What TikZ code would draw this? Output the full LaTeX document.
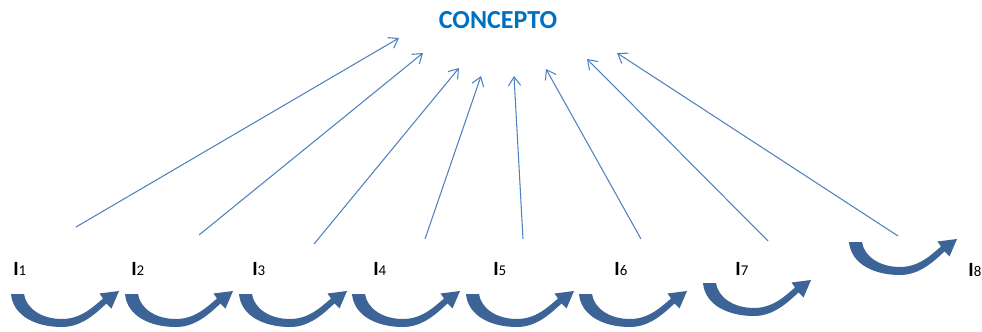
\documentclass[tikz,border=0pt]{standalone}
\usepackage{fontspec}
\setmainfont{Carlito}
\usetikzlibrary{arrows.meta}

\definecolor{lineblue}{RGB}{79,129,189}
\definecolor{titleblue}{RGB}{0,112,192}
\definecolor{bendblue}{RGB}{60,100,150}

\newcommand{\subnum}[1]{{\fontsize{8.5}{9}\selectfont #1}}

\tikzset{
  bendarrow/.pic={
    \fill[bendblue] (0,0) .. controls (2,22) and (25,33) .. (51,33)
      .. controls (71,33) and (85,19) .. (95.5,9.5) -- (100.5,14.5) -- (108,-3)
      -- (88.5,-0.5) -- (92,4.5) .. controls (82,13) and (70,25) .. (51,25)
      .. controls (30,25) and (15,14) .. (13,0) -- cycle;
  }
}

\begin{document}
\begin{tikzpicture}[x=0.02cm, y=-0.02cm,
    concept/.style={font=\bfseries\fontsize{14.8}{17}\selectfont, text=titleblue},
    item/.style={anchor=base west, inner sep=0pt, font=\fontsize{11.5}{13}\selectfont},
    link/.style={draw=lineblue, line width=0.6pt, -{Straight Barb[length=5pt,width=7pt]}}]
            \useasboundingbox (0,0) rectangle (982,331);

            \node[concept] (C) at (498,20) {CONCEPTO};

            \node[item] (I1) at (13,275) {\textbf{I}\subnum{1}};
            \node[item] (I2) at (131,275) {\textbf{I}\subnum{2}};
            \node[item] (I3) at (252,275) {\textbf{I}\subnum{3}};
            \node[item] (I4) at (373,275) {\textbf{I}\subnum{4}};
            \node[item] (I5) at (493,275) {\textbf{I}\subnum{5}};
            \node[item] (I6) at (614,275) {\textbf{I}\subnum{6}};
            \node[item] (I7) at (735,275) {\textbf{I}\subnum{7}};
            \node[item] (I8) at (968,276) {\textbf{I}\subnum{8}};

            % lower ends of the links
            \coordinate (s1) at (76,227);
            \coordinate (s2) at (199,235);
            \coordinate (s3) at (314,244);
            \coordinate (s4) at (425,239);
            \coordinate (s5) at (523,239);
            \coordinate (s6) at (641,239);
            \coordinate (s7) at (768,241);
            \coordinate (s8) at (898,236);

            % tips under the concept
            \coordinate (t1) at (399,38);
            \coordinate (t2) at (423,53);
            \coordinate (t3) at (459,68);
            \coordinate (t4) at (481,76);
            \coordinate (t5) at (514,76);
            \coordinate (t6) at (546,69);
            \coordinate (t7) at (587,59);
            \coordinate (t8) at (617,53);

            \draw[link] (s1) -- (t1);
            \draw[link] (s2) -- (t2);
            \draw[link] (s3) -- (t3);
            \draw[link] (s4) -- (t4);
            \draw[link] (s5) -- (t5);
            \draw[link] (s6) -- (t6);
            \draw[link] (s7) -- (t7);
            \draw[link] (s8) -- (t8);

            \pic at (11,294) {bendarrow};
            \pic at (125,294) {bendarrow};
            \pic at (239,294) {bendarrow};
            \pic at (352,294) {bendarrow};
            \pic at (466,294) {bendarrow};
            \pic at (579,294) {bendarrow};
            \pic at (703,283) {bendarrow};
            \pic at (849,242) {bendarrow};
        \end{tikzpicture}
\end{document}
